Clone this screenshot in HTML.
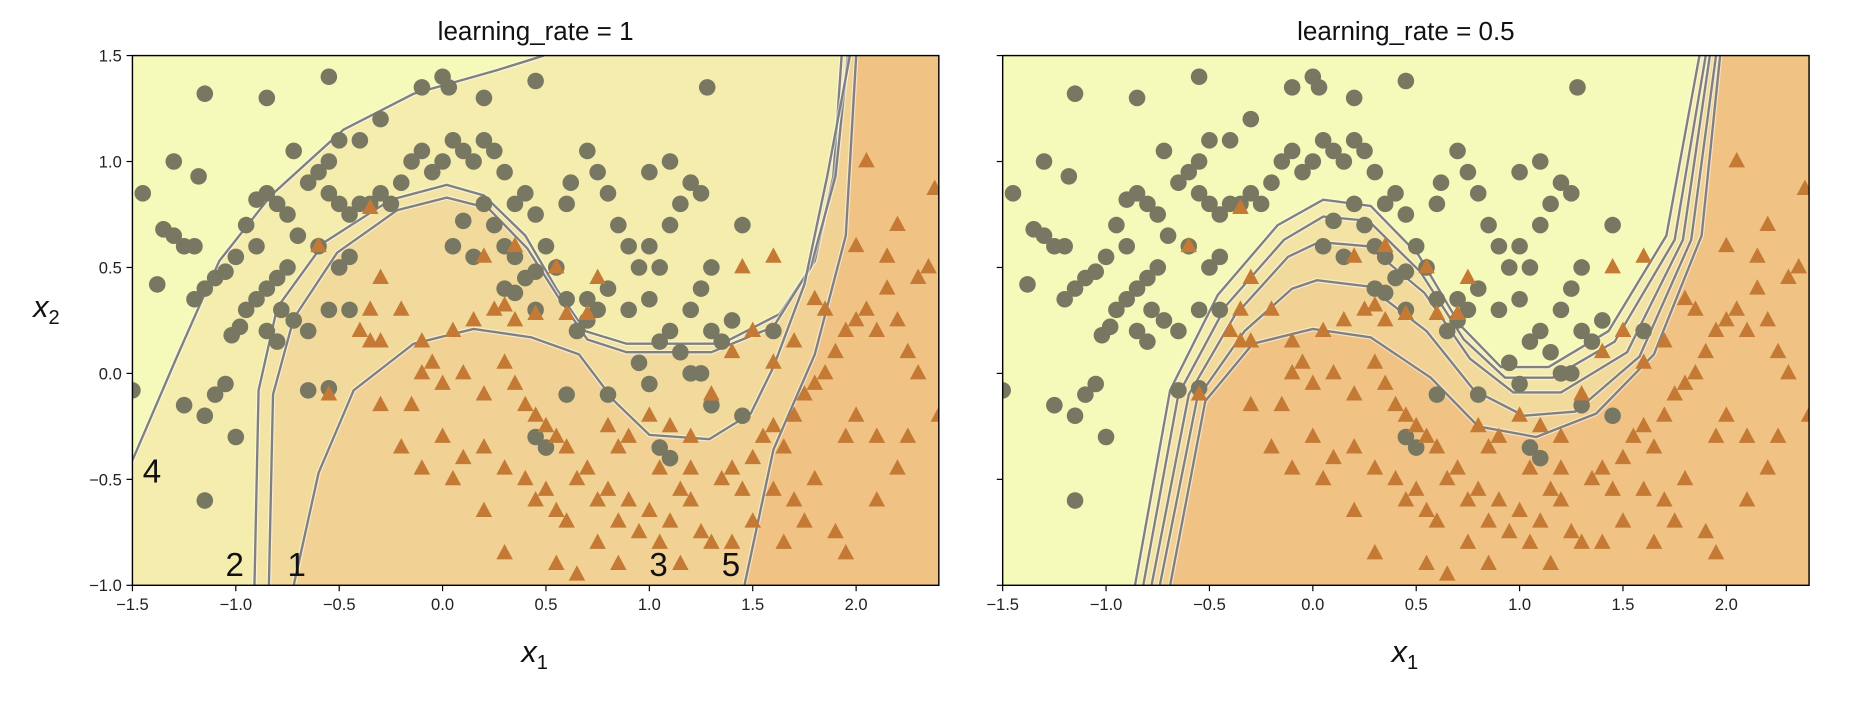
<!DOCTYPE html>
<html><head><meta charset="utf-8"><style>
body{margin:0;background:#fff;}
svg text{font-family:"Liberation Sans","DejaVu Sans",sans-serif;}
</style></head><body>
<svg id="c" width="1854" height="702" viewBox="0 0 1568 593.7" preserveAspectRatio="none" xmlns="http://www.w3.org/2000/svg">
<defs>
<clipPath id="clipL"><rect x="112" y="47" width="682" height="448"/></clipPath>
<clipPath id="clipR"><rect x="848" y="47" width="682" height="448"/></clipPath>
</defs>
</svg>
<script>
const xTicks=[-1.5,-1.0,-0.5,0.0,0.5,1.0,1.5,2.0];
const xTickLabels=["−1.5","−1.0","−0.5","0.0","0.5","1.0","1.5","2.0"];
const yTicks=[-1.0,-0.5,0.0,0.5,1.0,1.5];
const yTickLabels=["−1.0","−0.5","0.0","0.5","1.0","1.5"];
const titles=["learning_rate = 1","learning_rate = 0.5"];
const circles=[[-1.45,0.85],[-1.38,0.42],[-1.35,0.68],[-1.3,0.65],[-1.25,0.6],[-1.2,0.6],[-1.18,0.93],[-1.2,0.35],[-1.15,0.4],[-1.1,0.45],[-1.05,0.48],[-1.0,0.55],[-1.02,0.18],[-0.98,0.22],[-0.95,0.3],[-0.9,0.35],[-0.85,0.4],[-0.8,0.45],[-0.75,0.5],[-0.78,0.3],[-0.72,0.25],[-0.7,0.65],[-0.95,0.7],[-0.9,0.82],[-0.85,0.85],[-0.8,0.8],[-0.75,0.75],[-0.72,1.05],[-0.65,0.9],[-0.6,0.95],[-0.55,1.0],[-0.5,1.1],[-0.55,0.85],[-0.5,0.8],[-0.45,0.75],[-0.4,0.8],[-0.35,0.8],[-0.3,0.85],[-0.25,0.8],[-0.2,0.9],[-0.15,1.0],[-0.1,1.05],[-0.05,0.95],[0.0,1.0],[0.05,1.1],[0.1,1.05],[0.15,1.0],[0.2,1.1],[0.25,1.05],[-0.3,1.2],[-0.4,1.1],[-0.1,1.35],[0.0,1.4],[0.03,1.35],[0.2,1.3],[0.45,1.38],[-0.55,1.4],[-0.85,1.3],[-1.15,1.32],[-1.3,1.0],[-0.6,0.6],[-0.5,0.5],[-0.45,0.55],[-0.55,0.3],[-0.65,0.2],[-0.45,0.3],[-0.65,-0.08],[-0.55,-0.07],[-1.0,-0.3],[-1.05,-0.05],[-1.1,-0.1],[-1.15,-0.2],[-1.25,-0.15],[-1.5,-0.08],[-1.15,-0.6],[-0.9,0.6],[-0.85,0.2],[-0.8,0.15],[0.3,0.95],[0.35,0.8],[0.4,0.85],[0.45,0.75],[0.5,0.6],[0.55,0.5],[0.45,0.48],[0.4,0.45],[0.35,0.55],[0.3,0.6],[0.25,0.7],[0.2,0.8],[0.6,0.8],[0.62,0.9],[0.7,1.05],[0.75,0.95],[0.8,0.85],[0.85,0.7],[0.9,0.6],[0.95,0.5],[1.0,0.6],[1.05,0.5],[0.8,0.4],[0.75,0.3],[0.7,0.25],[0.9,0.3],[1.0,0.35],[1.1,0.7],[1.15,0.8],[1.2,0.9],[1.25,0.85],[1.1,1.0],[1.0,0.95],[1.3,0.5],[1.25,0.4],[1.2,0.3],[1.1,0.2],[1.05,0.15],[1.15,0.1],[1.3,0.2],[1.35,0.15],[1.4,0.25],[1.45,0.7],[1.28,1.35],[0.95,0.05],[1.0,-0.05],[1.2,0.0],[1.25,0.0],[1.3,-0.15],[1.45,-0.2],[1.1,-0.4],[1.05,-0.35],[0.6,-0.1],[0.45,-0.3],[0.5,-0.35],[0.65,0.2],[0.7,0.35],[0.6,0.35],[0.15,0.55],[0.1,0.72],[0.05,0.6],[0.3,0.4],[0.35,0.38],[0.45,0.3],[1.6,0.2],[0.8,-0.1]];
const triangles=[[-0.6,0.6],[-0.35,0.78],[0.2,0.55],[0.35,0.6],[0.55,0.5],[-0.3,0.45],[-0.35,0.3],[-0.2,0.3],[-0.4,0.2],[-0.35,0.15],[-0.3,0.15],[-0.1,0.15],[0.05,0.2],[0.15,0.25],[0.25,0.3],[0.3,0.32],[0.35,0.25],[0.45,0.28],[0.6,0.28],[0.7,0.28],[0.75,0.45],[-0.1,0.0],[-0.05,0.05],[0.0,-0.05],[0.1,0.0],[0.2,-0.1],[0.3,0.05],[0.35,-0.05],[0.4,-0.15],[0.45,-0.2],[0.5,-0.25],[0.55,-0.3],[0.6,-0.35],[-0.3,-0.15],[-0.15,-0.15],[0.0,-0.3],[0.2,-0.35],[0.3,-0.45],[0.4,-0.5],[0.45,-0.6],[0.5,-0.55],[0.55,-0.65],[0.6,-0.7],[0.65,-0.5],[0.7,-0.45],[0.75,-0.6],[0.8,-0.55],[0.85,-0.7],[0.9,-0.6],[0.95,-0.75],[1.0,-0.65],[1.05,-0.8],[1.1,-0.7],[1.15,-0.55],[1.2,-0.6],[1.25,-0.75],[1.3,-0.8],[1.35,-0.5],[1.4,-0.45],[1.45,-0.55],[1.5,-0.4],[1.55,-0.3],[1.6,-0.25],[1.65,-0.35],[1.7,-0.2],[1.75,-0.1],[1.8,-0.05],[1.85,0.0],[1.9,0.1],[1.95,0.2],[2.0,0.25],[2.05,0.3],[2.1,0.2],[2.15,0.4],[2.2,0.25],[2.25,0.1],[2.3,0.45],[2.35,0.5],[2.38,0.87],[2.05,1.0],[2.15,0.55],[1.85,0.3],[1.7,0.15],[1.6,0.05],[1.5,0.2],[1.4,0.1],[1.3,-0.1],[1.2,-0.3],[1.1,-0.25],[1.0,-0.2],[0.9,-0.3],[0.85,-0.35],[0.8,-0.25],[2.0,-0.2],[2.1,-0.3],[2.2,-0.45],[2.3,0.0],[2.25,-0.3],[1.95,-0.3],[1.8,-0.5],[1.7,-0.6],[1.6,-0.55],[1.5,-0.7],[1.4,-0.8],[1.9,-0.75],[1.95,-0.85],[1.75,-0.7],[1.6,0.55],[1.45,0.5],[0.2,-0.65],[0.55,-0.9],[0.65,-0.95],[0.3,-0.85],[0.85,-0.9],[1.15,-0.9],[-0.55,-0.1],[-0.2,-0.35],[-0.1,-0.45],[0.05,-0.5],[0.1,-0.4],[2.4,-0.2],[2.1,-0.6],[1.65,-0.8],[1.2,-0.45],[1.05,-0.45],[0.75,-0.8],[2.2,0.7],[1.8,0.35],[2.0,0.6]];
const leftB4=[[-1.5,-0.41],[-1.28,0.09],[-1.08,0.53],[-0.83,0.84],[-0.48,1.15],[-0.14,1.32],[0.26,1.43],[0.49,1.5]];
const leftB2=[[-0.91,-1],[-0.89,-0.08],[-0.8,0.31],[-0.57,0.62],[-0.25,0.82],[0.02,0.89],[0.2,0.84],[0.4,0.65],[0.55,0.4],[0.69,0.2],[0.89,0.14],[1.35,0.14],[1.63,0.28],[1.8,0.53],[1.89,0.93],[1.93,1.5]];
const leftB1=[[-0.84,-1],[-0.82,-0.1],[-0.72,0.26],[-0.51,0.57],[-0.22,0.77],[0.02,0.83],[0.22,0.78],[0.41,0.59],[0.56,0.36],[0.7,0.16],[0.89,0.1],[1.3,0.1],[1.6,0.22],[1.78,0.5],[1.9,0.93],[1.96,1.5]];
const leftB3=[[-0.72,-1],[-0.6,-0.47],[-0.43,-0.08],[-0.14,0.14],[0.15,0.21],[0.43,0.17],[0.66,0.09],[0.83,-0.13],[1.0,-0.29],[1.29,-0.31],[1.49,-0.19],[1.6,0.03],[1.75,0.42],[1.86,0.93],[1.97,1.5]];
const leftB5=[[1.46,-1],[1.6,-0.36],[1.8,0.09],[1.95,0.65],[2.0,1.5]];
const rightB1=[[-0.86,-1],[-0.69,-0.08],[-0.46,0.37],[-0.17,0.7],[0.05,0.82],[0.28,0.79],[0.51,0.56],[0.71,0.23],[0.91,0.03],[1.14,0.03],[1.43,0.2],[1.71,0.65],[1.87,1.5]];
const rightB2=[[-0.82,-1],[-0.65,-0.1],[-0.42,0.32],[-0.14,0.63],[0.05,0.74],[0.27,0.72],[0.52,0.48],[0.73,0.16],[0.93,-0.02],[1.16,-0.02],[1.46,0.15],[1.75,0.63],[1.9,1.5]];
const rightB3=[[-0.78,-1],[-0.6,-0.1],[-0.38,0.27],[-0.12,0.55],[0.03,0.62],[0.27,0.6],[0.54,0.38],[0.76,0.07],[0.97,-0.09],[1.2,-0.09],[1.52,0.1],[1.79,0.63],[1.92,1.5]];
const rightB4=[[-0.74,-1],[-0.56,-0.12],[-0.33,0.2],[-0.1,0.4],[0.02,0.44],[0.27,0.41],[0.55,0.2],[0.78,-0.08],[1.02,-0.2],[1.27,-0.18],[1.58,0.08],[1.83,0.63],[1.95,1.5]];
const rightB5=[[-0.69,-1],[-0.52,-0.13],[-0.29,0.14],[0.0,0.21],[0.28,0.17],[0.57,-0.02],[0.8,-0.25],[1.08,-0.3],[1.37,-0.19],[1.65,0.09],[1.88,0.65],[1.97,1.5]];
const leftLabels=[["4",-1.45,-0.46],["2",-1.05,-0.9],["1",-0.75,-0.9],["3",1.0,-0.9],["5",1.35,-0.9]];
const layerAlpha=[0.11,0.11,0.11,0.11,0.27];

const NS="http://www.w3.org/2000/svg";
const svg=document.getElementById('c');
function mk(tag,attrs,parent){const e=document.createElementNS(NS,tag);for(const k in attrs)e.setAttribute(k,attrs[k]);(parent||svg).appendChild(e);return e;}
const panels=[{x0:112,clip:'clipL',bounds:[leftB4,leftB2,leftB1,leftB3,leftB5]},{x0:848,clip:'clipR',bounds:[rightB1,rightB2,rightB3,rightB4,rightB5]}];
const W=682,H=448,Y0=47,XMIN=-1.5,XMAX=2.4,YMIN=-1,YMAX=1.5;
panels.forEach((p,pi)=>{
  const sx=v=>p.x0+(v-XMIN)/(XMAX-XMIN)*W;
  const sy=v=>Y0+(YMAX-v)/(YMAX-YMIN)*H;
  const g=mk('g',{'clip-path':'url(#'+p.clip+')'});
  
  
  const bg=mk('rect',{x:p.x0,y:Y0,width:W,height:H,fill:'#f5f9b9'},g);
  
  
  p.bounds.forEach((b,bi)=>{
    let d='M'+b.map(q=>sx(q[0]).toFixed(1)+','+sy(q[1]).toFixed(1)).join('L');
    d+='L'+sx(XMAX+0.1)+','+sy(YMAX+0.1)+'L'+sx(XMAX+0.1)+','+sy(YMIN-0.1)+'L'+sx(b[0][0])+','+sy(YMIN-0.1)+'Z';
    const f=mk('path',{d:d,fill:'rgb(238,150,88)','fill-opacity':layerAlpha[bi]},g);
    
    
  });
  p.bounds.forEach(b=>{
    const d='M'+b.map(q=>sx(q[0]).toFixed(1)+','+sy(q[1]).toFixed(1)).join('L');
    mk('path',{d:d,fill:'none',stroke:'#fff','stroke-opacity':0.5,'stroke-width':4},g);
    const l=mk('path',{d:d,fill:'none',stroke:'#808080','stroke-width':2},g);
    
    
  });
  circles.forEach(c=>{
    const e=mk('circle',{cx:sx(c[0]),cy:sy(c[1]),r:7,fill:'#777762'},g);
    
    
  });
  triangles.forEach(t=>{
    const x=sx(t[0]),y=sy(t[1]);
    const e=mk('polygon',{points:`${x},${y-8} ${x-7},${y+5} ${x+7},${y+5}`,fill:'#c47a35'},g);
    
    
  });
  if(pi===0){leftLabels.forEach(L=>{
    const t=mk('text',{x:sx(L[1]),y:sy(L[2])+10,'font-size':28,fill:'#111'},g);t.textContent=L[0];
    
    
  });}
  const fr=mk('rect',{x:p.x0,y:Y0,width:W,height:H,fill:'none',stroke:'#000','stroke-width':1.2});
  
  
  xTicks.forEach((v,i)=>{
    mk('line',{x1:sx(v),x2:sx(v),y1:Y0+H,y2:Y0+H+5,stroke:'#000'});
    const t=mk('text',{x:sx(v),y:Y0+H+21,'font-size':14,'text-anchor':'middle',fill:'#222'});t.textContent=xTickLabels[i];
    
    
  });
  yTicks.forEach((v,i)=>{
    mk('line',{x1:p.x0-5,x2:p.x0,y1:sy(v),y2:sy(v),stroke:'#000'});
    if(pi===0){const t=mk('text',{x:p.x0-9,y:sy(v)+5,'font-size':14,'text-anchor':'end',fill:'#222'});t.textContent=yTickLabels[i];
    
    }
  });
  const tt=mk('text',{x:p.x0+W/2,y:34,'font-size':22,'text-anchor':'middle',fill:'#111'});tt.textContent=titles[pi];
  
  
  const xl=mk('text',{x:p.x0+W/2-12,y:560,'font-size':26,'font-style':'italic',fill:'#111'});
  xl.innerHTML='x<tspan font-size="17" font-style="normal" dy="6">1</tspan>';
  
  
});
const yl=mk('text',{x:28,y:268,'font-size':26,'font-style':'italic',fill:'#111'});
yl.innerHTML='x<tspan font-size="17" font-style="normal" dy="6">2</tspan>';


</script>
</body></html>
